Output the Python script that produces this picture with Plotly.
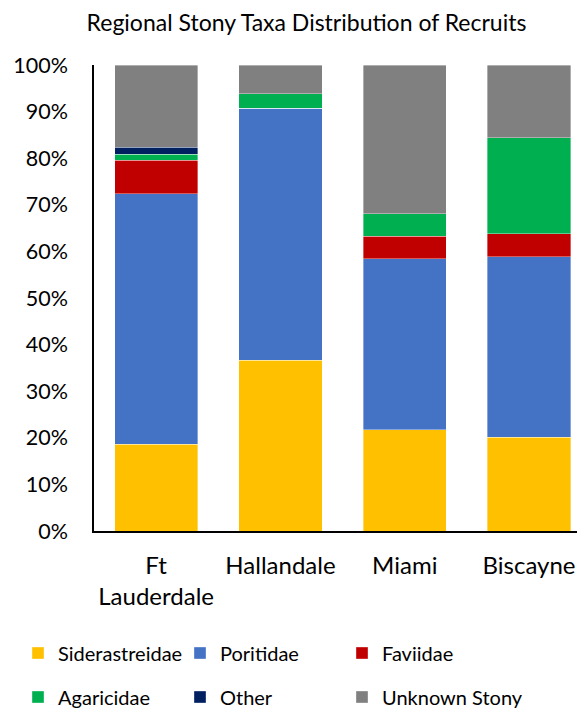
import plotly.graph_objects as go

categories = ["Ft<br>Lauderdale", "Hallandale", "Miami", "Biscayne"]
siderastreidae = [18.6, 36.6, 21.7, 20.1]
poritidae = [53.8, 54.1, 36.7, 38.7]
faviidae = [7.2, 0.0, 4.9, 5.0]
agaricidae = [1.3, 3.1, 4.8, 20.6]
other = [1.5, 0.0, 0.0, 0.0]
unknown_stony = [17.6, 6.2, 31.9, 15.6]
y_ticks = [0, 10, 20, 30, 40, 50, 60, 70, 80, 90, 100]
y_tick_labels = ["0%", "10%", "20%", "30%", "40%", "50%", "60%", "70%", "80%", "90%", "100%"]

series_names = ["Siderastreidae", "Poritidae", "Faviidae", "Agaricidae", "Other", "Unknown Stony"]
series_values = [siderastreidae, poritidae, faviidae, agaricidae, other, unknown_stony]
series_colors = ["#FFC000", "#4472C4", "#C00000", "#00B050", "#002060", "#808080"]

FONT = "Lato, 'Open Sans', sans-serif"
# page has an 8px body margin, so the figure is 8px smaller than the window
W, H = 577, 702

# legend placement (figure pixels): one legend per entry, 3 columns x 2 rows
leg_cols = [10, 172, 334]
leg_rows = [645, 689]

fig = go.Figure()
layout_legends = {}
for i, (name, vals, color) in enumerate(zip(series_names, series_values, series_colors)):
    key = "legend" if i == 0 else f"legend{i + 1}"
    fig.add_trace(go.Bar(
        x=categories, y=vals, name=name,
        marker=dict(color=color, line=dict(color="rgba(255,255,255,0.6)", width=0.6)),
        legend=key,
    ))
    layout_legends[key] = dict(
        orientation="h", x=leg_cols[i % 3] / W, xanchor="left",
        y=1 - leg_rows[i // 3] / H, yanchor="middle",
        xref="container", yref="container",
        font=dict(size=20, family=FONT), bgcolor="rgba(0,0,0,0)",
    )

fig.update_layout(
    width=W, height=H,
    barmode="stack",
    bargap=0.33,
    plot_bgcolor="white", paper_bgcolor="white",
    margin=dict(l=86, r=0, t=57, b=179, autoexpand=False),
    font=dict(family=FONT, color="#000000"),
    title=dict(text="Regional Stony Taxa Distribution of Recruits",
               x=(306.5 - 8) / W, xanchor="center", xref="container",
               y=1 - 15 / H, yanchor="middle", yref="container",
               font=dict(size=23, family=FONT, color="#000000")),
    xaxis=dict(range=[-0.5, 3.45], showline=True, linecolor="#000000", linewidth=1.5,
               ticks="outside", ticklen=12, tickcolor="rgba(0,0,0,0)",
               tickfont=dict(size=24, family=FONT), showgrid=False, fixedrange=True),
    yaxis=dict(range=[0, 100], tickvals=y_ticks, ticktext=y_tick_labels,
               showline=True, linecolor="#000000", linewidth=1.5,
               ticks="outside", ticklen=20, tickcolor="rgba(0,0,0,0)",
               tickfont=dict(size=21.5, family=FONT), showgrid=False, zeroline=False),
    showlegend=True,
    **layout_legends,
)

fig.write_html("out.html")
